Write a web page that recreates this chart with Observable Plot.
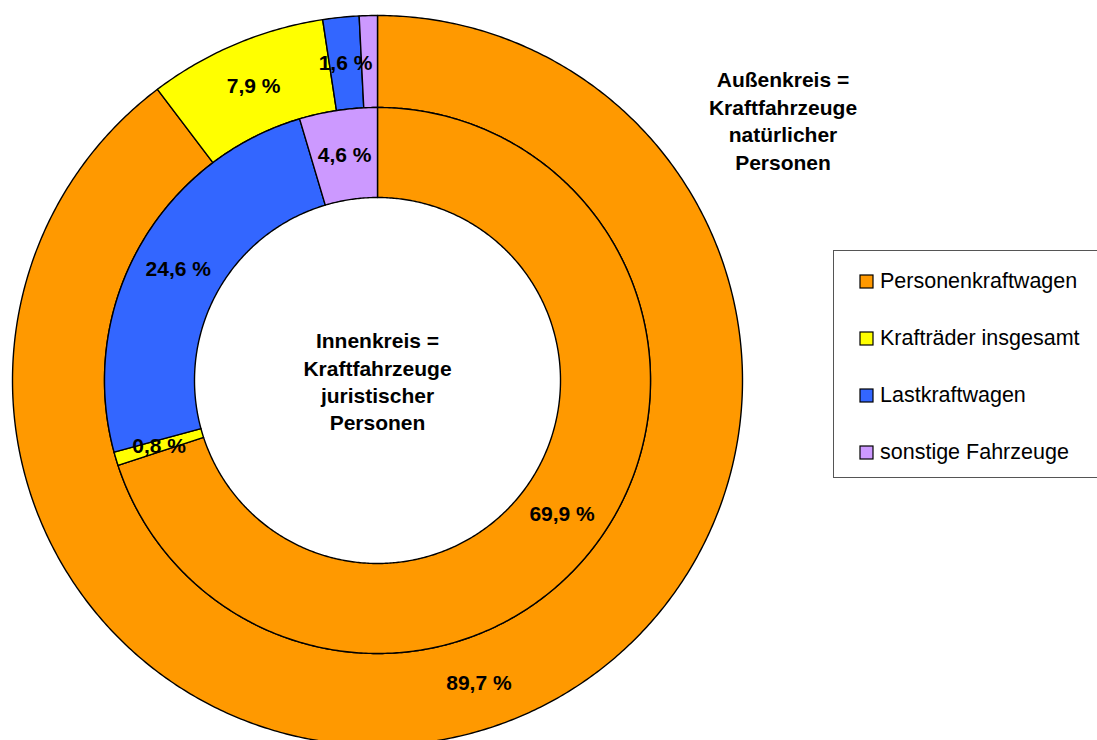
<!DOCTYPE html>
<html><head><meta charset="utf-8">
<script src="https://cdn.jsdelivr.net/npm/d3@7"></script>
<script src="https://cdn.jsdelivr.net/npm/@observablehq/plot@0.6"></script>
<style>
body{margin:0;background:#fff;font-family:Arial,"Liberation Sans",sans-serif;}
#wrap{position:relative;width:1097px;height:740px;overflow:hidden;}
#wrap > svg{position:absolute;left:0;top:0;}
#outerNote{position:absolute;left:683px;top:66px;width:200px;text-align:center;font-weight:bold;font-size:21px;line-height:27.5px;color:#000;white-space:pre;}
#legendBox{position:absolute;left:833px;top:250px;width:290px;height:228px;border:1px solid #555;box-sizing:border-box;padding:2px 0 0 26px;background:#fff;}
.lg-swatches{margin:0 !important;min-height:0 !important;}
.lg-swatch{height:57px !important;margin:0 !important;padding:0 !important;display:flex !important;align-items:center !important;}
.lg-swatch svg{overflow:visible;margin-right:7px !important;}
.lg-swatch svg rect{stroke:#000;stroke-width:1.2px;}
</style></head><body><div id="wrap"><div id="outerNote"></div><div id="legendBox"></div></div>
<script>
const categories = ["Personenkraftwagen","Krafträder insgesamt","Lastkraftwagen","sonstige Fahrzeuge"];
const colors = ["#FF9900","#FFFF00","#3366FF","#CC99FF"];
const outerValues = [89.7, 7.9, 1.6, 0.8];
const innerValues = [69.9, 0.8, 24.6, 4.6];
const outerLabels = ["89,7 %","7,9 %","1,6 %",""];
const innerLabels = ["69,9 %","0,8 %","24,6 %","4,6 %"];
const innerTitle = "Innenkreis =\nKraftfahrzeuge\njuristischer\nPersonen";
const outerTitle = "Außenkreis =\nKraftfahrzeuge\nnatürlicher\nPersonen";

const R_HOLE = 183, R_MID = 273, R_OUT = 365;

const pts = [], labs = [];
function ring(values, labels, r0, r1, tag) {
  const total = d3.sum(values);
  let acc = 0;
  values.forEach((v, i) => {
    const a0 = acc / total * 2 * Math.PI, a1 = (acc + v) / total * 2 * Math.PI;
    acc += v;
    const n = Math.max(2, Math.ceil((a1 - a0) / (Math.PI / 360)));
    const id = tag + i;
    for (let k = 0; k <= n; k++) { const a = a0 + (a1 - a0) * k / n; pts.push({id, cat: categories[i], x: r1 * Math.sin(a), y: r1 * Math.cos(a)}); }
    for (let k = n; k >= 0; k--) { const a = a0 + (a1 - a0) * k / n; pts.push({id, cat: categories[i], x: r0 * Math.sin(a), y: r0 * Math.cos(a)}); }
    const am = (a0 + a1) / 2, rm = (r0 + r1) / 2;
    if (labels[i]) labs.push({x: rm * Math.sin(am), y: rm * Math.cos(am), text: labels[i]});
  });
}
ring(outerValues, outerLabels, R_MID, R_OUT, "o");
ring(innerValues, innerLabels, R_HOLE, R_MID, "i");

const font = "Arial, 'Liberation Sans', sans-serif";
const plot = Plot.plot({
  width: 1097, height: 740, margin: 0,
  x: {domain: [-377, 720], axis: null},
  y: {domain: [-360, 380], axis: null},
  color: {domain: categories, range: colors},
  style: {fontFamily: font, background: "transparent", overflow: "visible"},
  marks: [
    Plot.line(pts, {x: "x", y: "y", z: "id", fill: "cat", stroke: "black", strokeWidth: 1.4, curve: "linear-closed"}),
    Plot.text(labs, {x: "x", y: "y", text: "text", fontSize: 21, fontWeight: "bold", fill: "black"}),
    Plot.text([{x: 0, y: 0, text: innerTitle}], {x: "x", y: "y", text: "text", fontSize: 21, fontWeight: "bold", lineHeight: 1.3, fill: "black"})
  ]
});
document.getElementById("wrap").prepend(plot);
document.getElementById("outerNote").textContent = outerTitle;

const legend = Plot.legend({
  color: {domain: categories, range: colors},
  legend: "swatches", columns: 1, swatchSize: 13, className: "lg",
  style: {fontSize: "21.5px", fontFamily: font, color: "#000"}
});
document.getElementById("legendBox").appendChild(legend);
</script>
</body></html>
